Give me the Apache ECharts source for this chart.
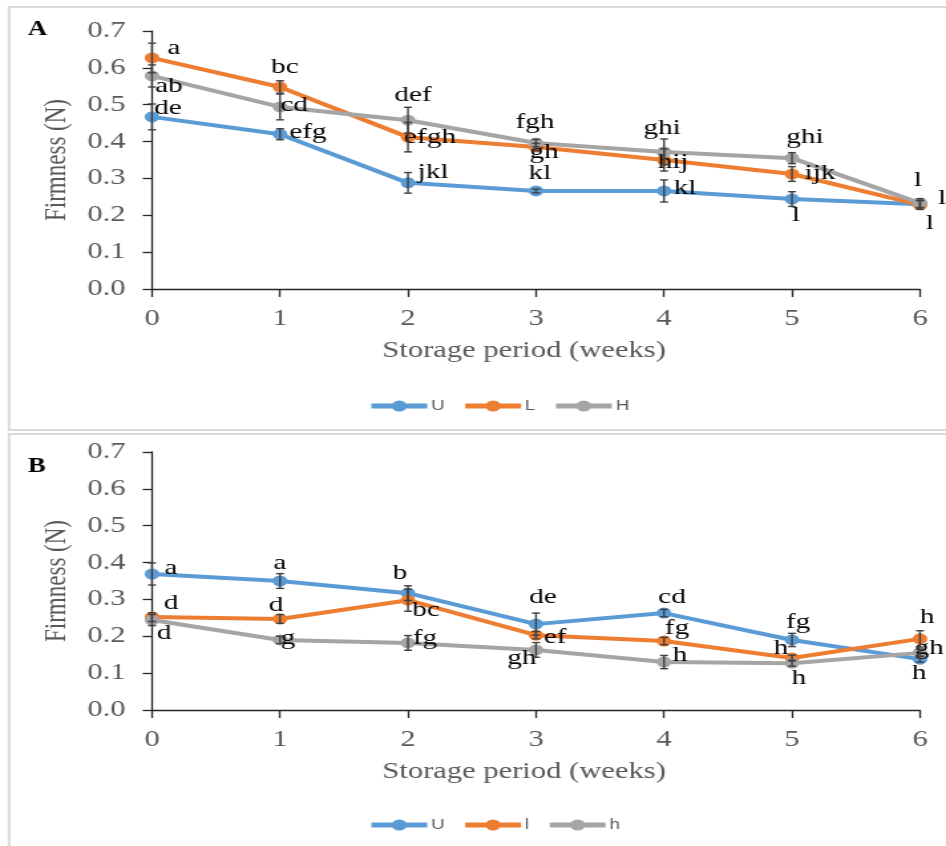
<!DOCTYPE html>
<html>
<head>
<meta charset="utf-8">
<script src="https://cdn.jsdelivr.net/npm/echarts@6/dist/echarts.min.js"></script>
<style>
  html, body { margin: 0; padding: 0; background: #fff; overflow: hidden; }
  /* the source figure is stretched sideways, so draw narrow and scale */
  #chart { width: 712px; height: 846px; transform: scaleX(1.3287); transform-origin: 0 0; }
</style>
</head>
<body>
<div id="chart"></div>
<script>
var S = 946 / 712;

var weeks = [0, 1, 2, 3, 4, 5, 6];
var yTicks = [0, 0.1, 0.2, 0.3, 0.4, 0.5, 0.6, 0.7];

// panel A
var aU = [0.467, 0.42, 0.288, 0.266, 0.266, 0.244, 0.23];
var aL = [0.627, 0.548, 0.412, 0.385, 0.35, 0.312, 0.228];
var aH = [0.578, 0.494, 0.458, 0.396, 0.372, 0.355, 0.233];
var aUerr = [0.035, 0.015, 0.028, 0.005, 0.03, 0.02, 0.01];
var aLerr = [0.04, 0.017, 0.04, 0.01, 0.03, 0.02, 0.012];
var aHerr = [0.03, 0.035, 0.035, 0.01, 0.035, 0.015, 0.012];
var aUtxt = ['de', 'efg', 'jkl', 'kl', 'kl', 'l', 'l'];
var aLtxt = ['a', 'bc', 'efgh', 'gh', 'hij', 'ijk', 'l'];
var aHtxt = ['ab', 'cd', 'def', 'fgh', 'ghi', 'ghi', 'l'];

// panel B
var bU = [0.369, 0.35, 0.317, 0.233, 0.263, 0.19, 0.138];
var bL = [0.252, 0.247, 0.298, 0.203, 0.187, 0.141, 0.193];
var bH = [0.244, 0.19, 0.182, 0.163, 0.13, 0.127, 0.155];
var bUerr = [0.03, 0.02, 0.02, 0.03, 0.01, 0.018, 0.008];
var bLerr = [0.012, 0.012, 0.03, 0.01, 0.01, 0.008, 0.022];
var bHerr = [0.015, 0.01, 0.02, 0.02, 0.018, 0.008, 0.01];
var bUtxt = ['a', 'a', 'b', 'de', 'cd', 'fg', 'h'];
var bLtxt = ['d', 'd', 'bc', 'ef', 'fg', 'h', 'h'];
var bHtxt = ['d', 'g', 'fg', 'gh', 'h', 'h', 'gh'];

// where each letter sits relative to its point (screen px)
var aUoff = [[16, -9], [28, -2], [25, -11], [4, -18], [21, -3], [4, 16], [10, 19]];
var aLoff = [[22, -10], [5, -20], [22, 0], [8, 5], [9, 2], [28, -1], [22, -7]];
var aHoff = [[17, 10], [14, -2], [5, -25], [-1, -21], [-2, -24], [13, -21], [-2, -23]];
var bUoff = [[19, -6], [0, -18], [-8, -20], [7, -27], [8, -16], [6, -18], [-1, 14]];
var bLoff = [[19, -14], [-4, -14], [18, 10], [19, 2], [13, -13], [-11, -10], [7, -22]];
var bHoff = [[12, 13], [8, -2], [17, -5], [-14, 8], [16, -7], [7, 15], [9, -5]];

var BLUE = '#5B9BD5', ORANGE = '#ED7D31', GRAY = '#A5A5A5';
var SERIF = '"Liberation Serif", "Times New Roman", serif';

function points(vals, txt, off) {
  return weeks.map(function (w, i) {
    return {
      value: [w, vals[i]],
      label: { formatter: txt[i], offset: [off[i][0] / S, off[i][1]] }
    };
  });
}

function lineSeries(name, color, vals, txt, off, idx) {
  return {
    name: name,
    type: 'line',
    xAxisIndex: idx,
    yAxisIndex: idx,
    data: points(vals, txt, off),
    symbol: 'circle',
    symbolSize: 11,
    color: color,
    lineStyle: { width: 4, color: color },
    itemStyle: { color: color },
    label: { show: true, position: 'inside', color: '#000', fontFamily: SERIF, fontSize: 22 },
    z: 2
  };
}

function renderErr(params, api) {
  var x = api.value(0), y = api.value(1), e = api.value(2);
  var t = api.coord([x, y + e]);
  var b = api.coord([x, y - e]);
  var w = 3;
  var st = { stroke: '#404040', lineWidth: 1.4 };
  return {
    type: 'group',
    children: [
      { type: 'line', shape: { x1: t[0], y1: t[1], x2: b[0], y2: b[1] }, style: st },
      { type: 'line', shape: { x1: t[0] - w, y1: t[1], x2: t[0] + w, y2: t[1] }, style: st },
      { type: 'line', shape: { x1: b[0] - w, y1: b[1], x2: b[0] + w, y2: b[1] }, style: st }
    ]
  };
}

function errSeries(vals, err, idx) {
  return {
    type: 'custom',
    xAxisIndex: idx,
    yAxisIndex: idx,
    renderItem: renderErr,
    data: weeks.map(function (w, i) { return [w, vals[i], err[i]]; }),
    silent: true,
    z: 3
  };
}

function xAx(idx) {
  return {
    type: 'value', gridIndex: idx, min: 0, max: 6, interval: 1,
    name: 'Storage period (weeks)', nameLocation: 'middle', nameGap: 50,
    nameTextStyle: { color: '#595959', fontFamily: SERIF, fontSize: 23, padding: [0, 18, 0, 0] },
    axisLine: { show: true, lineStyle: { color: '#262626', width: 1.3 } },
    axisTick: { show: true, length: 8, lineStyle: { color: '#262626', width: 1.3 } },
    axisLabel: { color: '#595959', fontFamily: SERIF, fontSize: 23, margin: 18 },
    splitLine: { show: false }
  };
}

function yAx(idx) {
  return {
    type: 'value', gridIndex: idx, min: yTicks[0], max: yTicks[yTicks.length - 1], interval: 0.1,
    name: 'Firmness (N)', nameLocation: 'middle', nameGap: 53,
    nameTextStyle: { color: '#595959', fontFamily: SERIF, fontSize: 23 },
    axisLine: { show: true, lineStyle: { color: '#262626', width: 1.3 } },
    axisTick: { show: true, length: 7, lineStyle: { color: '#262626', width: 1.3 } },
    axisLabel: { color: '#595959', fontFamily: SERIF, fontSize: 23, margin: 20,
      formatter: function (v) { return v.toFixed(1); } },
    splitLine: { show: false }
  };
}

function legendAt(top, names) {
  return {
    data: names, top: top, left: 272,
    itemWidth: 42, itemHeight: 14, itemGap: 13,
    lineStyle: { width: 5 },
    textStyle: { color: '#595959', fontFamily: '"Liberation Sans", Arial, sans-serif', fontSize: 14, padding: [0, 0, 0, -2] },
    selectedMode: false
  };
}

var chart = echarts.init(document.getElementById('chart'));

chart.setOption({
  backgroundColor: '#fff',
  animation: false,
  graphic: [
    { type: 'rect', shape: { x: 6.8, y: 7, width: 760, height: 423 },
      style: { fill: 'none', stroke: '#d9d9d9', lineWidth: 2 }, z: -1 },
    { type: 'rect', shape: { x: 6.8, y: 434, width: 760, height: 430 },
      style: { fill: 'none', stroke: '#d9d9d9', lineWidth: 2 }, z: -1 },
    { type: 'text', left: 21, top: 20,
      style: { text: 'A', fill: '#000', font: 'bold 20px ' + SERIF } },
    { type: 'text', left: 21, top: 457,
      style: { text: 'B', fill: '#000', font: 'bold 20px ' + SERIF } }
  ],
  grid: [
    { left: 114.4, right: 19.6, top: 31, height: 258 },
    { left: 114.4, right: 19.6, top: 452, height: 258 }
  ],
  xAxis: [xAx(0), xAx(1)],
  yAxis: [yAx(0), yAx(1)],
  legend: [legendAt(394, ['U', 'L', 'H']), legendAt(813, ['U', 'l', 'h'])],
  series: [
    lineSeries('U', BLUE, aU, aUtxt, aUoff, 0),
    lineSeries('L', ORANGE, aL, aLtxt, aLoff, 0),
    lineSeries('H', GRAY, aH, aHtxt, aHoff, 0),
    errSeries(aU, aUerr, 0),
    errSeries(aL, aLerr, 0),
    errSeries(aH, aHerr, 0),
    lineSeries('U', BLUE, bU, bUtxt, bUoff, 1),
    lineSeries('l', ORANGE, bL, bLtxt, bLoff, 1),
    lineSeries('h', GRAY, bH, bHtxt, bHoff, 1),
    errSeries(bU, bUerr, 1),
    errSeries(bL, bLerr, 1),
    errSeries(bH, bHerr, 1)
  ]
});
</script>
</body>
</html>
